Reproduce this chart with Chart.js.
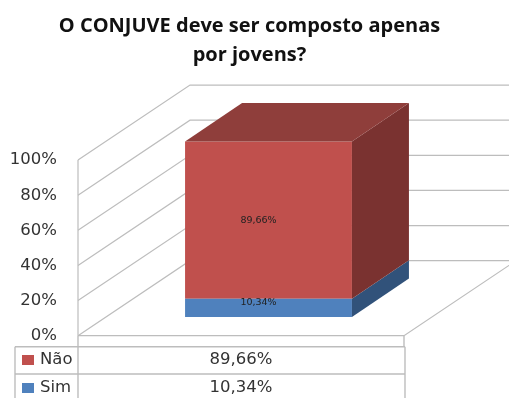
<!DOCTYPE html>
<html lang="pt">
<head>
<meta charset="utf-8">
<title>O CONJUVE deve ser composto apenas por jovens?</title>
<script src="https://cdn.jsdelivr.net/npm/chart.js@4"></script>
<style>
  html, body { margin: 0; padding: 0; background: #fff; }
  canvas { display: block; }
</style>
</head>
<body>
<canvas id="chart" width="509" height="398"></canvas>
<script>
/* Stacked 3D-look column with a data table under the axis */

const titleLines = ['O CONJUVE deve ser composto apenas', 'por jovens?'];
const categories = [''];
const seriesNames = ['Sim', 'Não'];
const simValues = [10.34];
const naoValues = [89.66];
const yTickMax = 100;
const yTickStep = 20;

const RED = '#c0504d';
const RED_TOP = '#8f3e3b';
const RED_SIDE = '#7a3230';
const BLUE = '#4f81bd';
const BLUE_SIDE = '#31527a';
const GRID = '#bdbdbd';
const TEXT = '#333333';

// plot geometry, px
const AREA_LEFT = 78;
const AREA_TOP = 85;
const AREA_BOTTOM = 335.7;
const PX_PER_PCT = 1.756;
const BAR_LIFT = 18.7;      // column stands this far above the front edge of the floor
const WALL_DX = 112, WALL_DY = -75;
const BAR_DX = 57, BAR_DY = -38.5;
const FLOOR_RIGHT = 404;
const TABLE = { left: 15, key: 78, right: 405, top: 346.7, split: 374, bottom: 398 };

const pct = (v) => v.toFixed(2).replace('.', ',') + '%';

function poly(ctx, pts, fill) {
  ctx.beginPath();
  pts.forEach((p, i) => (i ? ctx.lineTo(p[0], p[1]) : ctx.moveTo(p[0], p[1])));
  ctx.closePath();
  ctx.fillStyle = fill;
  ctx.fill();
}

function line(ctx, pts) {
  ctx.beginPath();
  pts.forEach((p, i) => (i ? ctx.lineTo(p[0], p[1]) : ctx.moveTo(p[0], p[1])));
  ctx.stroke();
}

const walls = {
  id: 'walls',
  afterLayout(chart) {
    // title is centred a little left of the canvas centre, not on the padded box
    chart.titleBlock.right += 40;
  },
  beforeDatasetsDraw(chart) {
    const { ctx, scales: { y } } = chart;
    ctx.save();
    ctx.strokeStyle = GRID;
    ctx.lineWidth = 1.2;
    for (let v = 0; v <= yTickMax; v += yTickStep) {
      const py = y.getPixelForValue(v);
      line(ctx, [[AREA_LEFT, py], [AREA_LEFT + WALL_DX, py + WALL_DY], [chart.width + 10, py + WALL_DY]]);
    }
    // axis, floor edges
    const y0 = y.getPixelForValue(0);
    line(ctx, [[AREA_LEFT, y.getPixelForValue(yTickMax)], [AREA_LEFT, y0]]);
    line(ctx, [[AREA_LEFT, y0], [FLOOR_RIGHT, y0], [FLOOR_RIGHT + WALL_DX, y0 + WALL_DY]]);
    ctx.restore();
  },
  afterDatasetsDraw(chart) {
    const { ctx } = chart;
    ctx.save();
    const faces = [[BLUE_SIDE, null], [RED_SIDE, RED_TOP]];
    faces.forEach(([side, top], i) => {
      const bar = chart.getDatasetMeta(i).data[0];
      const l = bar.x - bar.width / 2, r = bar.x + bar.width / 2;
      poly(ctx, [[r, bar.base], [r + BAR_DX, bar.base + BAR_DY], [r + BAR_DX, bar.y + BAR_DY], [r, bar.y]], side);
      if (top) poly(ctx, [[l, bar.y], [l + BAR_DX, bar.y + BAR_DY], [r + BAR_DX, bar.y + BAR_DY], [r, bar.y]], top);
    });

    // value labels on the front faces
    ctx.font = '9.5px "DejaVu Sans"';
    ctx.textAlign = 'center';
    ctx.textBaseline = 'middle';
    ctx.fillStyle = '#222222';
    [simValues, naoValues].forEach((vals, i) => {
      const bar = chart.getDatasetMeta(i).data[0];
      const offset = i === 0 ? -5 : 0;
      ctx.fillText(pct(vals[0]), bar.x - 10, (bar.y + bar.base) / 2 + offset);
    });
    ctx.restore();
  },
  afterDraw(chart) {
    // data table: Não on top, Sim below
    const { ctx } = chart;
    const y0 = chart.scales.y.getPixelForValue(0);
    ctx.save();
    ctx.strokeStyle = GRID;
    ctx.lineWidth = 1.4;
    line(ctx, [[TABLE.left, TABLE.top], [TABLE.right, TABLE.top]]);
    line(ctx, [[TABLE.left, TABLE.split], [TABLE.right, TABLE.split]]);
    line(ctx, [[TABLE.left, TABLE.top], [TABLE.left, TABLE.bottom]]);
    line(ctx, [[TABLE.key, y0], [TABLE.key, TABLE.bottom]]);
    line(ctx, [[FLOOR_RIGHT, y0], [FLOOR_RIGHT, TABLE.top]]);
    line(ctx, [[TABLE.right, TABLE.top], [TABLE.right, TABLE.bottom]]);

    const rows = [
      { name: seriesNames[1], value: naoValues[0], color: RED, cy: 360 },
      { name: seriesNames[0], value: simValues[0], color: BLUE, cy: 388 },
    ];
    ctx.textBaseline = 'middle';
    ctx.font = '16.5px "DejaVu Sans"';
    ctx.fillStyle = TEXT;
    rows.forEach((row) => {
      ctx.fillStyle = row.color;
      ctx.fillRect(22, row.cy - 5, 12, 10);
      ctx.fillStyle = TEXT;
      ctx.textAlign = 'left';
      ctx.fillText(row.name, 40, row.cy);
      ctx.textAlign = 'center';
      ctx.fillText(pct(row.value), 241, row.cy);
    });
    ctx.restore();
  },
};

new Chart(document.getElementById('chart'), {
  type: 'bar',
  plugins: [walls],
  data: {
    labels: categories,
    datasets: [
      { label: seriesNames[0], data: simValues, backgroundColor: BLUE, yAxisID: 'yBar' },
      { label: seriesNames[1], data: naoValues, backgroundColor: RED, yAxisID: 'yBar' },
    ],
  },
  options: {
    responsive: false,
    animation: false,
    layout: { padding: { left: 0, right: 50, top: 0, bottom: 398 - AREA_BOTTOM } },
    datasets: { bar: { categoryPercentage: 1, barPercentage: 0.438 } },
    plugins: {
      legend: { display: false },
      tooltip: { enabled: false },
      title: {
        display: true,
        text: titleLines,
        color: '#111111',
        font: { family: '"Open Sans"', size: 20, weight: 'bold', lineHeight: 29 / 20 },
        padding: { top: 11.5, bottom: 15.5 },
      },
    },
    scales: {
      x: { display: false, stacked: true },
      // visible percent axis sits on the front edge of the floor
      y: {
        min: 0,
        max: (AREA_BOTTOM - AREA_TOP) / PX_PER_PCT,
        afterFit: (s) => { s.width = AREA_LEFT; },
        afterBuildTicks: (s) => {
          s.ticks = [];
          for (let v = 0; v <= yTickMax; v += yTickStep) s.ticks.push({ value: v });
        },
        grid: { display: false, drawTicks: false },
        border: { display: false },
        ticks: {
          padding: 21,
          color: TEXT,
          font: { family: '"DejaVu Sans"', size: 16.5 },
          callback: (v) => v + '%',
        },
      },
      // column scale: same px per percent, zero lifted off the floor edge
      yBar: {
        display: false,
        stacked: true,
        min: -BAR_LIFT / PX_PER_PCT,
        max: (AREA_BOTTOM - AREA_TOP - BAR_LIFT) / PX_PER_PCT,
      },
    },
  },
});
</script>
</body>
</html>
